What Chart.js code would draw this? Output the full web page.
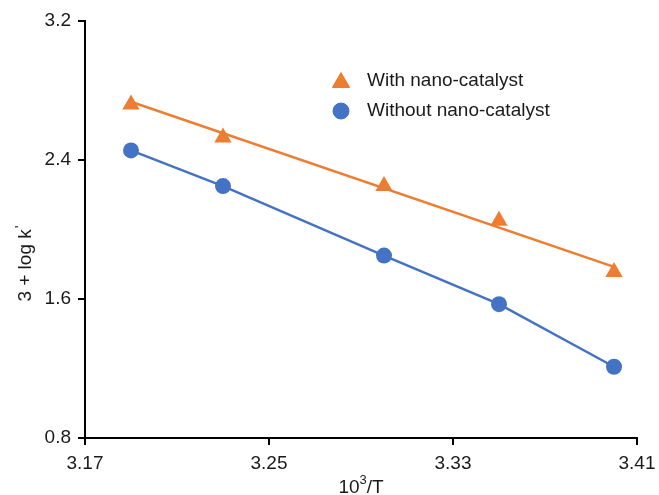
<!DOCTYPE html>
<html><head><meta charset="utf-8">
<script src="https://cdn.jsdelivr.net/npm/chart.js@4/dist/chart.umd.min.js"></script>
<style>html,body{margin:0;padding:0;background:#fff}</style>
</head><body>
<canvas id="c" width="659" height="495"></canvas>
<script>
// ---- data ----
const invT = [3.19, 3.23, 3.30, 3.35, 3.40];
const withCat = [2.72, 2.53, 2.25, 2.05, 1.755];
const withoutCat = [2.455, 2.25, 1.85, 1.57, 1.21];
const trendX = [3.19, 3.40];
const trendWith = [2.735, 1.785];
const xTicks = [3.17, 3.25, 3.33, 3.41];
const yTicks = [0.8, 1.6, 2.4, 3.2];
const seriesNames = ['With nano-catalyst', 'Without nano-catalyst'];

const ORANGE = '#ED7D31', BLUE = '#4472C4';
const FONT = '"Liberation Sans", Arial, sans-serif';

const pts = (xs, ys) => xs.map((x, i) => ({x: x, y: ys[i]}));

const annot = {
  id: 'annot',
  afterDraw(chart) {
    const ctx = chart.ctx;
    const H = Chart.helpers;
    ctx.save();
    const items = [
      {ds: chart.data.datasets[0], y: 81},
      {ds: chart.data.datasets[1], y: 111}
    ];
    items.forEach(it => {
      ctx.fillStyle = it.ds.backgroundColor;
      ctx.strokeStyle = it.ds.backgroundColor;
      H.drawPoint(ctx, {pointStyle: it.ds.pointStyle, radius: it.ds.pointRadius, rotation: 0, borderWidth: 1}, 341, it.y + (it.ds.pointStyle === 'triangle' ? 1.5 : 0));
      ctx.fillStyle = '#1a1a1a';
      ctx.font = '19px ' + FONT;
      ctx.textBaseline = 'middle';
      ctx.textAlign = 'left';
      ctx.fillText(it.ds.label, 367, it.y);
    });
    const ca = chart.chartArea;
    ctx.textBaseline = 'alphabetic';
    const big = '19px ' + FONT, small = '13px ' + FONT;
    ctx.font = big; const w1 = ctx.measureText('10').width; const w3 = ctx.measureText('/T').width;
    ctx.font = small; const w2 = ctx.measureText('3').width;
    let x0 = (ca.left + ca.right) / 2 - (w1 + w2 + w3) / 2;
    const by = 493;
    ctx.font = big; ctx.fillText('10', x0, by);
    ctx.font = small; ctx.fillText('3', x0 + w1, by - 9);
    ctx.font = big; ctx.fillText('/T', x0 + w1 + w2, by);
    ctx.save();
    ctx.translate(31, 264);
    ctx.rotate(-Math.PI / 2);
    ctx.font = big; const t1 = ctx.measureText('3 + log k').width;
    const primeFont = '15px ' + FONT;
    ctx.font = primeFont; const t2 = ctx.measureText('\'').width;
    let sx = -(t1 + t2) / 2;
    ctx.font = big; ctx.fillText('3 + log k', sx, 0);
    ctx.font = primeFont; ctx.fillText('\'', sx + t1 + 1, -6);
    ctx.restore();
    ctx.restore();
  }
};

new Chart(document.getElementById('c'), {
  type: 'scatter',
  data: {
    datasets: [
      {label: seriesNames[0], data: pts(invT, withCat), pointStyle: 'triangle', pointRadius: 10, pointHoverRadius: 10,
       backgroundColor: ORANGE, borderColor: ORANGE, borderWidth: 0, showLine: false, order: 0},
      {label: seriesNames[1], data: pts(invT, withoutCat), pointStyle: 'circle', pointRadius: 8, pointHoverRadius: 8,
       backgroundColor: BLUE, borderColor: BLUE, borderWidth: 2.5, pointBorderWidth: 0, showLine: true, order: 0},
      {label: 'fit1', data: pts(trendX, trendWith), showLine: true, pointRadius: 0, borderColor: ORANGE, borderWidth: 2.5, order: 1}
    ]
  },
  options: {
    responsive: false,
    devicePixelRatio: 1,
    animation: false,
    layout: {padding: {top: 21, right: 22, left: 0, bottom: 0}},
    plugins: {legend: {display: false}, tooltip: {enabled: false}},
    scales: {
      x: {
        type: 'linear', min: xTicks[0], max: xTicks[xTicks.length - 1],
        afterBuildTicks: s => { s.ticks = xTicks.map(v => ({value: v})); },
        afterFit: s => { s.height = 57; s.paddingLeft = 0; s.paddingRight = 0; },
        ticks: {callback: v => v.toFixed(2), color: '#1a1a1a', font: {family: FONT, size: 19}, padding: 7, maxRotation: 0, autoSkip: false},
        grid: {display: true, drawOnChartArea: false, drawTicks: true, tickLength: 7, color: '#000', lineWidth: 2},
        border: {display: true, color: '#000', width: 2}
      },
      y: {
        type: 'linear', min: yTicks[0], max: yTicks[yTicks.length - 1],
        afterBuildTicks: s => { s.ticks = yTicks.map(v => ({value: v})); },
        afterFit: s => { s.width = 85; s.paddingTop = 0; s.paddingBottom = 0; },
        ticks: {callback: v => v.toFixed(1), color: '#1a1a1a', font: {family: FONT, size: 19}, padding: 7, autoSkip: false},
        grid: {display: true, drawOnChartArea: false, drawTicks: true, tickLength: 7, color: '#000', lineWidth: 2},
        border: {display: true, color: '#000', width: 2}
      }
    }
  },
  plugins: [annot]
});
</script>
</body></html>
